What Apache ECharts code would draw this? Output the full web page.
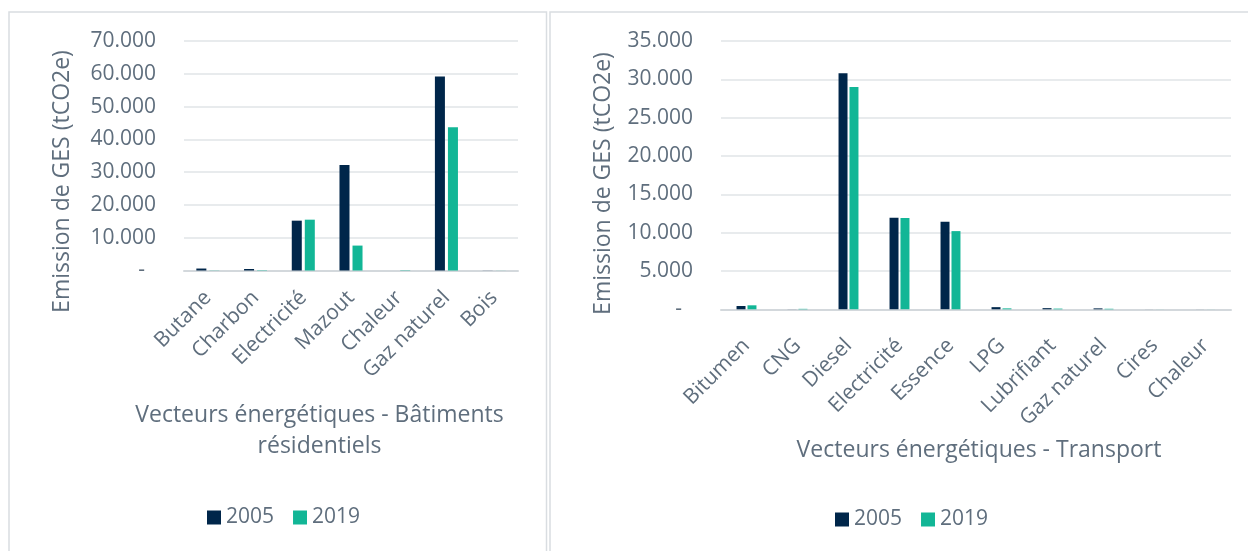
<!DOCTYPE html>
<html>
<head>
<meta charset="utf-8">
<script src="https://cdn.jsdelivr.net/npm/echarts@6/dist/echarts.min.js"></script>
<style>
  html, body { margin: 0; padding: 0; background: #ffffff; }
  #chart { width: 1250px; height: 551px; }
</style>
</head>
<body>
<div id="chart"></div>
<script>
// Emissions de GES par vecteur énergétique (tCO2e), 2005 vs 2019
const years = ['2005', '2019'];

const resCategories = ['Butane', 'Charbon', 'Electricité', 'Mazout', 'Chaleur', 'Gaz naturel', 'Bois'];
const res2005 = [600, 450, 15200, 32200, 0, 59200, 30];
const res2019 = [50, 100, 15500, 7600, 100, 43700, 20];
const resTicks = { min: 0, max: 70000, interval: 10000 };

const trCategories = ['Bitumen', 'CNG', 'Diesel', 'Electricité', 'Essence', 'LPG', 'Lubrifiant', 'Gaz naturel', 'Cires', 'Chaleur'];
const tr2005 = [430, 10, 30800, 11950, 11430, 280, 150, 120, 5, 5];
const tr2019 = [520, 60, 29000, 11900, 10200, 120, 90, 70, 5, 5];
const trTicks = { min: 0, max: 35000, interval: 5000 };

const NAVY = '#00264a';
const TEAL = '#12b696';
const TEXT = '#5f6e7d';
const GRID = '#e1e4e7';
const FRAME = '#d9dde1';
const FONT = '"Open Sans", "Noto Sans", sans-serif';

// accounting-style thousands: 70.000, zero drawn as a dash
function fmtThousands(v) {
  if (v === 0) return '{z|-}';
  return String(v).replace(/\B(?=(\d{3})+(?!\d))/g, '.');
}

function valueAxis(gridIndex, ticks) {
  return {
    type: 'value', gridIndex: gridIndex,
    min: ticks.min, max: ticks.max, interval: ticks.interval,
    axisLine: { show: false }, axisTick: { show: false },
    splitLine: { lineStyle: { color: GRID, width: 1.5 } },
    axisLabel: {
      color: TEXT, fontFamily: FONT, fontSize: 21, margin: 28,
      formatter: fmtThousands,
      rich: { z: { color: TEXT, fontFamily: FONT, fontSize: 21, padding: [0, 11, 0, 0] } }
    }
  };
}

function categoryAxis(gridIndex, cats, margin) {
  return {
    type: 'category', gridIndex: gridIndex, data: cats,
    axisLine: { lineStyle: { color: '#d3d8dc', width: 2 } },
    axisTick: { show: false },
    axisLabel: { color: TEXT, fontFamily: FONT, fontSize: 21, rotate: 45, margin: margin, interval: 0 }
  };
}

function barSeries(name, data, color, axisIdx, width, gap) {
  return {
    type: 'bar', name: name, data: data,
    xAxisIndex: axisIdx, yAxisIndex: axisIdx,
    barWidth: width, barGap: gap,
    itemStyle: { color: color },
    emphasis: { disabled: true }
  };
}

function legendAt(left, top) {
  return {
    data: years, left: left, top: top, padding: 0,
    icon: 'rect', itemWidth: 14, itemHeight: 14, itemGap: 19,
    textStyle: { color: TEXT, fontFamily: FONT, fontSize: 21 }
  };
}

function titleText(x, y, text, rotation, size) {
  return {
    type: 'text', x: x, y: y, rotation: rotation || 0,
    style: {
      text: text, fill: TEXT, font: size + 'px ' + FONT,
      textAlign: 'center', textVerticalAlign: 'middle', lineHeight: 31
    }
  };
}

const chart = echarts.init(document.getElementById('chart'), null, { renderer: 'canvas' });

chart.setOption({
  animation: false,
  backgroundColor: '#ffffff',
  grid: [
    { left: 184, right: 1250 - 518, top: 41, bottom: 551 - 270.5 },
    { left: 721, right: 1250 - 1231, top: 41, bottom: 551 - 309.3 }
  ],
  xAxis: [categoryAxis(0, resCategories, 24), categoryAxis(1, trCategories, 33)],
  yAxis: [valueAxis(0, resTicks), valueAxis(1, trTicks)],
  legend: [legendAt(207, 507), legendAt(835, 509)],
  series: [
    barSeries(years[0], res2005, NAVY, 0, '21%', '30%'),
    barSeries(years[1], res2019, TEAL, 0, '21%', '30%'),
    barSeries(years[0], tr2005, NAVY, 1, '17.6%', '22%'),
    barSeries(years[1], tr2019, TEAL, 1, '17.6%', '22%')
  ],
  graphic: [
    // panel frames
    { type: 'polyline', shape: { points: [[9, 560], [9, 12], [546.5, 12], [546.5, 560]] },
      style: { stroke: FRAME, lineWidth: 1.5, fill: null }, silent: true },
    { type: 'polyline', shape: { points: [[550, 560], [550, 12], [1248, 12]] },
      style: { stroke: FRAME, lineWidth: 1.5, fill: null }, silent: true },
    // axis titles
    titleText(62, 181.5, 'Emission de GES (tCO2e)', Math.PI / 2, 23),
    titleText(603, 183.5, 'Emission de GES (tCO2e)', Math.PI / 2, 23),
    titleText(319.5, 431, 'Vecteurs énergétiques - Bâtiments\nrésidentiels', 0, 23),
    titleText(979, 450, 'Vecteurs énergétiques - Transport', 0, 23)
  ]
});
</script>
</body>
</html>
